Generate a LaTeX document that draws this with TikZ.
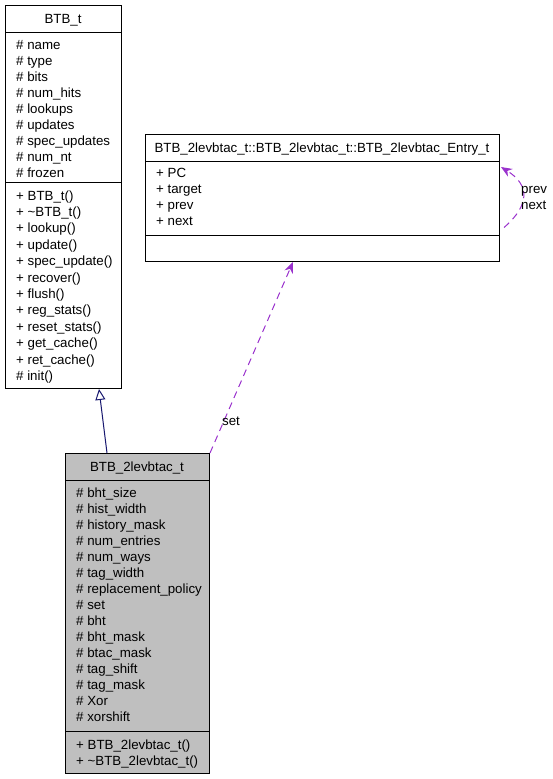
\documentclass[tikz,border=0pt]{standalone}
\usepackage{fontspec}
\setmainfont{Liberation Sans}
\usetikzlibrary{arrows.meta}
\definecolor{inhblue}{HTML}{191970}
\definecolor{usepurple}{HTML}{9A32CD}
\definecolor{classgray}{HTML}{BFBFBF}
\tikzset{
  classbox/.style={draw, line width=1pt, anchor=north west, inner sep=0pt},
  member/.style={anchor=base west, inner sep=0pt},
  classname/.style={anchor=base, inner sep=0pt},
  inherit/.style={draw=inhblue, line width=1pt, -{Triangle[open,length=11pt,width=10pt,fill=white]}},
  usage/.style={draw=usepurple, line width=1pt, dash pattern=on 7pt off 5pt, -{Stealth[length=11pt,width=9pt]}},
}
\begin{document}
\begin{tikzpicture}[x=1pt, y=-1pt, font=\fontsize{13.3}{16}\selectfont]
	\useasboundingbox (0,0) rectangle (553,779);
	% base class
	\node (bt) [classbox, minimum width=116pt, minimum height=383pt] at (5,5) {};
	\draw [line width=1pt] (5,32) -- (121,32) (5,182) -- (121,182);
	\node (btname) [classname] at (63,23.5) {BTB\_t};
	\foreach \a [count=\i from 0] in {name, type, bits, num\_hits, lookups, updates, spec\_updates, num\_nt, frozen}
		\node (bta\i) [member] at (16,49+16*\i) {\# \a};
	\foreach \m [count=\i from 0] in {+ BTB\_t(), + \textasciitilde BTB\_t(), + lookup(), + update(), + spec\_update(), + recover(), + flush(), + reg\_stats(), + reset\_stats(), + get\_cache(), + ret\_cache(), \# init()}
		\node (btm\i) [member] at (16,200+16.4*\i) {\m};
	% entry class
	\node (entry) [classbox, minimum width=354pt, minimum height=127pt] at (145,134) {};
	\draw [line width=1pt] (145,161) -- (499,161) (145,235) -- (499,235);
	\node (entryname) [classname] at (322,152) {BTB\_2levbtac\_t::BTB\_2levbtac\_t::BTB\_2levbtac\_Entry\_t};
	\foreach \a [count=\i from 0] in {PC, target, prev, next}
		\node (entrya\i) [member] at (156,177+16*\i) {+ \a};
	% derived class
	\node (lev) [classbox, fill=classgray, minimum width=144pt, minimum height=320pt] at (65,453) {};
	\draw [line width=1pt] (65,480) -- (209,480) (65,731) -- (209,731);
	\node (levname) [classname] at (137,471) {BTB\_2levbtac\_t};
	\foreach \a [count=\i from 0] in {bht\_size, hist\_width, history\_mask, num\_entries, num\_ways, tag\_width, replacement\_policy, set, bht, bht\_mask, btac\_mask, tag\_shift, tag\_mask, Xor, xorshift}
		\node (leva\i) [member] at (76,497+16*\i) {\# \a};
	\node (levm0) [member] at (76,749) {+ BTB\_2levbtac\_t()};
	\node (levm1) [member] at (76,765) {+ \textasciitilde BTB\_2levbtac\_t()};
	% connectors
	\draw [inherit] ([xshift=42pt]lev.north west) -- ([xshift=94pt]bt.south west);
	\draw [usage] (lev.north east) -- ([xshift=148pt]entry.south west);
	\node (setlabel) [member] at (222,425) {set};
	\draw [usage] ([xshift=4pt,yshift=-29.5pt]entry.east) .. controls (530,205) and (530,185) .. ([xshift=1pt,yshift=31pt]entry.east);
	\node (prevlabel) [member] at (521,193) {prev};
	\node (nextlabel) [member] at (521,209) {next};
\end{tikzpicture}
\end{document}
